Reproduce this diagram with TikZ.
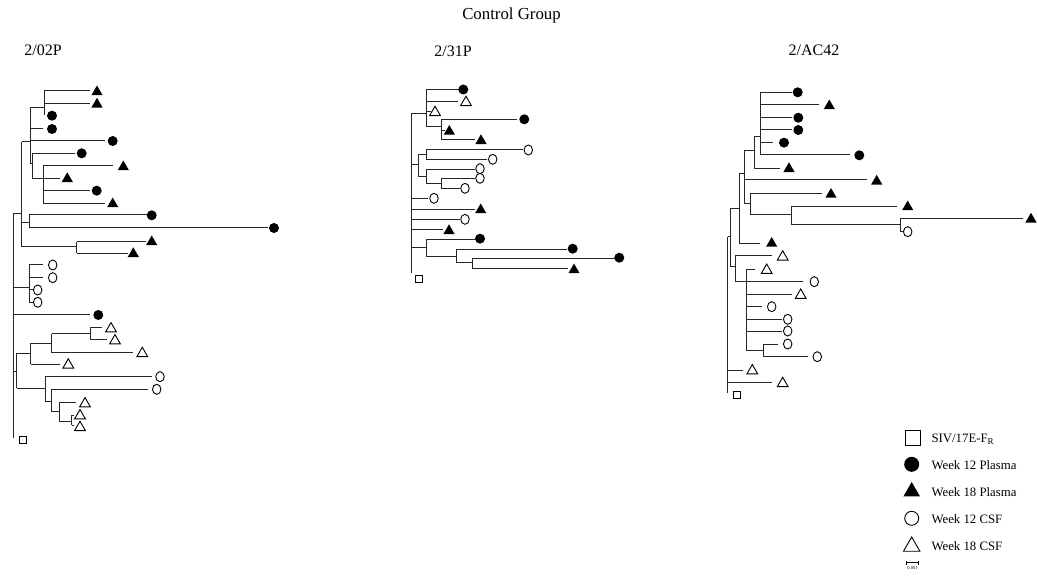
\documentclass[tikz,border=0pt]{standalone}
\usepackage{fontspec}
\setmainfont{Liberation Serif}
\usetikzlibrary{shapes.geometric}
\tikzset{
  br/.style={line width=1pt, black!85},
  fc/.style={circle, fill=black, inner sep=0pt, minimum size=10pt},
  ft/.style={regular polygon, regular polygon sides=3, fill=black, inner sep=0pt, minimum size=13pt},
  oc/.style={ellipse, draw=black, line width=0.9pt, inner sep=0pt, minimum width=8.5pt, minimum height=10pt},
  ot/.style={regular polygon, regular polygon sides=3, draw=black, line width=0.9pt, inner sep=0pt, minimum size=12.5pt},
  sq/.style={rectangle, draw=black, line width=0.9pt, inner sep=0pt, minimum size=7pt},
  lfc/.style={fc, minimum size=15pt},
  lft/.style={ft, minimum size=19pt},
  loc/.style={oc, minimum width=14pt, minimum height=14pt},
  lot/.style={ot, minimum size=19pt},
  lsq/.style={sq, minimum size=15pt},
  ttl/.style={font=\fontsize{16.8}{19}\selectfont},
  lab/.style={font=\fontsize{16}{19}\selectfont},
  leg/.style={font=\fontsize{12.8}{15}\selectfont, anchor=west}
}
\newcommand\bV[3]{\draw[br] (#1,#2) -- (#1,#3);}
\newcommand\bH[3]{\draw[br] (#2,#1) -- (#3,#1);}
\newcommand\mfc[2]{\node[fc] at (#1,#2) {};}
\newcommand\mft[2]{\node[ft] at (#1,#2) {};}
\newcommand\moc[2]{\node[oc] at (#1,#2) {};}
\newcommand\mot[2]{\node[ot] at (#1,#2) {};}
\newcommand\msq[2]{\node[sq] at (#1,#2) {};}
\begin{document}
\begin{tikzpicture}[x=1pt,y=-1pt]
\useasboundingbox (0,0) rectangle (1037,580);
% titles
\node[ttl] (title) at (511.5,15) {Control Group};
\node[lab] (t1) at (43,50) {2/02P};
\node[lab] (t2) at (453,51) {2/31P};
\node[lab] (t3) at (814,50) {2/AC42};
% ---------------- Tree 1: 2/02P
\bV{13.3}{214}{438}
\bH{214}{13.3}{21.7}
\bV{21.7}{141.7}{246.7}
\bH{141.7}{21.7}{30}
\bV{30}{107.7}{163.3}
\bH{107.7}{30}{44.3}
\bV{44.3}{91}{115}
\bH{91}{44.3}{90}\mft{97}{92}
\bH{103.3}{44.3}{90}\mft{97}{104.3}
\mfc{52}{115.7}
\bH{129}{30}{43.3}\mfc{52}{129}
\bH{141}{30}{105}\mfc{112.7}{141}
\bH{163.3}{30}{32.3}
\bV{32.3}{153.3}{178.3}
\bH{153.3}{32.3}{75}\mfc{81.7}{153.3}
\bH{178.3}{32.3}{43.3}
\bV{43.3}{166}{203.3}
\bH{166}{43.3}{113.3}\mft{123.3}{167}
\bH{178.3}{43.3}{60}\mft{67.3}{178.8}
\bH{190.7}{43.3}{90}\mfc{96.7}{190.7}
\bH{203.3}{43.3}{105}\mft{112.7}{204}
\bH{222.7}{21.7}{29.3}
\bV{29.3}{215}{228}
\bH{215}{29.3}{146.7}\mfc{151.7}{215.3}
\bH{228}{29.3}{268}\mfc{274}{228}
\bH{246.7}{21.7}{76.7}
\bV{76.7}{241.7}{253.3}
\bH{241.7}{76.7}{146}\mft{151.7}{242}
\bH{253.3}{76.7}{128}\mft{133.3}{253.8}
\bH{287.3}{13.3}{29.3}
\bV{29.3}{265}{302.3}
\bH{265}{29.3}{43.3}\moc{52.7}{265}
\bH{277.7}{29.3}{43.3}\moc{52.7}{277.7}
\bH{290}{29.3}{33}\moc{37.7}{290}
\bH{302.3}{29.3}{33}\moc{37.7}{302.3}
\bH{315}{13.3}{90}\mfc{98.3}{315}
\bH{371.7}{13.3}{16.7}
\bV{16.7}{353.3}{388.3}
\bH{353.3}{16.7}{30.7}
\bV{30.7}{343.3}{364.3}
\bH{343.3}{30.7}{51.7}
\bV{51.7}{334}{352.7}
\bH{334}{51.7}{90}
\bV{90}{327.3}{340}
\bH{327.3}{90}{101.7}\mot{111}{328.8}
\bH{340}{90}{106.7}\mot{115}{340.8}
\bH{352.7}{51.7}{133.3}\mot{142.3}{353.5}
\bH{364.3}{30.7}{60}\mot{68.3}{365}
\bH{388.3}{16.7}{45}
\bV{45}{376.7}{401.7}
\bH{376.7}{45}{151.7}\moc{160}{376.7}
\bH{401.7}{45}{51.7}
\bV{51.7}{389.3}{411.7}
\bH{389.3}{51.7}{148.3}\moc{156.7}{389.3}
\bH{411.7}{51.7}{59.3}
\bV{59.3}{402.7}{421.7}
\bH{402.7}{59.3}{76}\mot{85}{403.8}
\bH{421.7}{59.3}{71.7}
\bV{71.7}{415}{425}
\bH{415}{71.7}{74}\mot{80}{415.8}
\bH{425}{71.7}{74}\mot{80}{427.5}
\msq{22.7}{440}
% ---------------- Tree 2: 2/31P
\bV{411.7}{113.3}{273.3}
\bH{113.3}{411.7}{426}
\bV{426}{90}{126.7}
\bH{90}{426}{460}\mfc{463.3}{89.5}
\bH{101.7}{426}{458.3}\mot{466}{102.5}
\bH{111.7}{426}{431}\mot{435}{112.5}
\bH{126.7}{426}{441}
\bV{441}{119.3}{140}
\bH{119.3}{441}{516.7}\mfc{524.3}{119.3}
\bH{131}{441}{445}\mft{449.3}{131.5}
\bH{140}{441}{475}\mft{481}{140.8}
\bH{165}{411.7}{418.3}
\bV{418.3}{155}{176.7}
\bH{155}{418.3}{426}
\bV{426}{150}{159.3}
\bH{150}{426}{523.3}\moc{528.3}{150}
\bH{159.3}{426}{486.7}\moc{492.7}{159.3}
\bH{176.7}{418.3}{426}
\bV{426}{169.3}{183.3}
\bH{169.3}{426}{475}\moc{480}{168.7}
\bH{183.3}{426}{441}
\bV{441}{178.3}{188.3}
\bH{178.3}{441}{475}\moc{480}{178.3}
\bH{188.3}{441}{460}\moc{465}{188.3}
\bH{198.3}{411.7}{428}\moc{434}{198.3}
\bH{209.3}{411.7}{475}\mft{480.7}{210}
\bH{220}{411.7}{460}\moc{465}{219.3}
\bH{230}{411.7}{443.3}\mft{449}{230.8}
\bH{247.7}{411.7}{426}
\bV{426}{239.3}{256.7}
\bH{239.3}{426}{475}\mfc{480}{238.7}
\bH{256.7}{426}{456}
\bV{456}{249.3}{262.7}
\bH{249.3}{456}{566.7}\mfc{572.7}{248.7}
\bH{262.7}{456}{472.3}
\bV{472.3}{258.3}{268.3}
\bH{258.3}{472.3}{615}\mfc{619.3}{257.7}
\bH{268.3}{472.3}{568.3}\mft{574}{270}
\msq{419}{279.3}
% ---------------- Tree 3: 2/AC42
\bV{727.5}{236.7}{393.3}
\bH{236.7}{727.5}{730}
\bV{730}{208.3}{266.7}
\bH{208.3}{730}{739}
\bV{739}{173.3}{243.3}
\bH{173.3}{739}{744}
\bV{744}{150.7}{204}
\bH{150.7}{744}{754.3}
\bV{754.3}{136.7}{168.3}
\bH{136.7}{754.3}{760}
\bV{760}{92.3}{155}
\bH{92.3}{760}{791.7}\mfc{797.7}{92.3}
\bH{105}{760}{819.3}\mft{829.3}{106}
\bH{117.7}{760}{791.7}\mfc{798.3}{117.7}
\bH{130}{760}{791.7}\mfc{798.3}{130}
\bH{142.7}{760}{773.3}\mfc{784}{142.7}
\bH{155}{760}{850}\mfc{859.3}{155.3}
\bH{168.3}{754.3}{780}\mft{789}{168.8}
\bH{180}{744}{866.7}\mft{876.7}{181.3}
\bH{204}{744}{750}
\bV{750}{193.3}{215}
\bH{193.3}{750}{821.7}\mft{831}{194.5}
\bH{215}{750}{791}
\bV{791}{206.3}{225}
\bH{206.3}{791}{896.7}\mft{907.7}{207}
\bH{225}{791}{900}
\bV{900}{218.3}{231.7}
\bH{218.3}{900}{1023.3}\mft{1031}{219.3}
\bH{231.7}{900}{903}\moc{907.7}{231.7}
\bH{243.3}{739}{760}\mft{771.7}{243.5}
\bH{266.7}{730}{735}
\bV{735}{256}{281.7}
\bH{256}{735}{771.7}\mot{782.7}{257}
\bH{281.7}{735}{746}
\bV{746}{269.3}{350.7}
\bH{269.3}{746}{755}\mot{766.7}{270.3}
\bH{281.7}{746}{803.3}\moc{814.3}{281.7}
\bH{294.3}{746}{791.7}\mot{800.7}{295.3}
\bH{306.7}{746}{761.7}\moc{771.7}{306.7}
\bH{319.3}{746}{781.7}\moc{787.7}{319.3}
\bH{331.7}{746}{781.7}\moc{787.7}{331}
\bH{350.7}{746}{763.3}
\bV{763.3}{344}{356.7}
\bH{344}{763.3}{778.3}\moc{787.7}{344}
\bH{356.7}{763.3}{808.3}\moc{817.3}{356.7}
\bH{370}{727.5}{742.7}\mot{752.3}{370.8}
\bH{382.7}{727.5}{771.7}\mot{782.7}{383.5}
\msq{736.7}{395}
% ---------------- Legend
\node[lsq] (k1) at (913.3,438.3) {};
\node[lfc] (k2) at (911.7,464.3) {};
\node[lft] (k3) at (911.7,491.5) {};
\node[loc] (k4) at (911.7,518.3) {};
\node[lot] (k5) at (911.7,546.5) {};
\node[leg] (l1) at (928,439) {SIV/17E-F\textsubscript{R}};
\node[leg] (l2) at (928,465) {Week 12 Plasma};
\node[leg] (l3) at (928,492) {Week 18 Plasma};
\node[leg] (l4) at (928,519) {Week 12 CSF};
\node[leg] (l5) at (928,546) {Week 18 CSF};
\coordinate (sa) at (906.7,562.7);
\coordinate (sb) at (918.3,562.7);
\draw[line width=0.8pt] (sa) -- (sb);
\draw[line width=0.8pt] ([yshift=-2pt]sa) -- ([yshift=2pt]sa);
\draw[line width=0.8pt] ([yshift=-2pt]sb) -- ([yshift=2pt]sb);
\node[font=\fontsize{4.5}{5}\selectfont] (sc) at (912.5,568.5) {0.001};
\end{tikzpicture}
\end{document}
